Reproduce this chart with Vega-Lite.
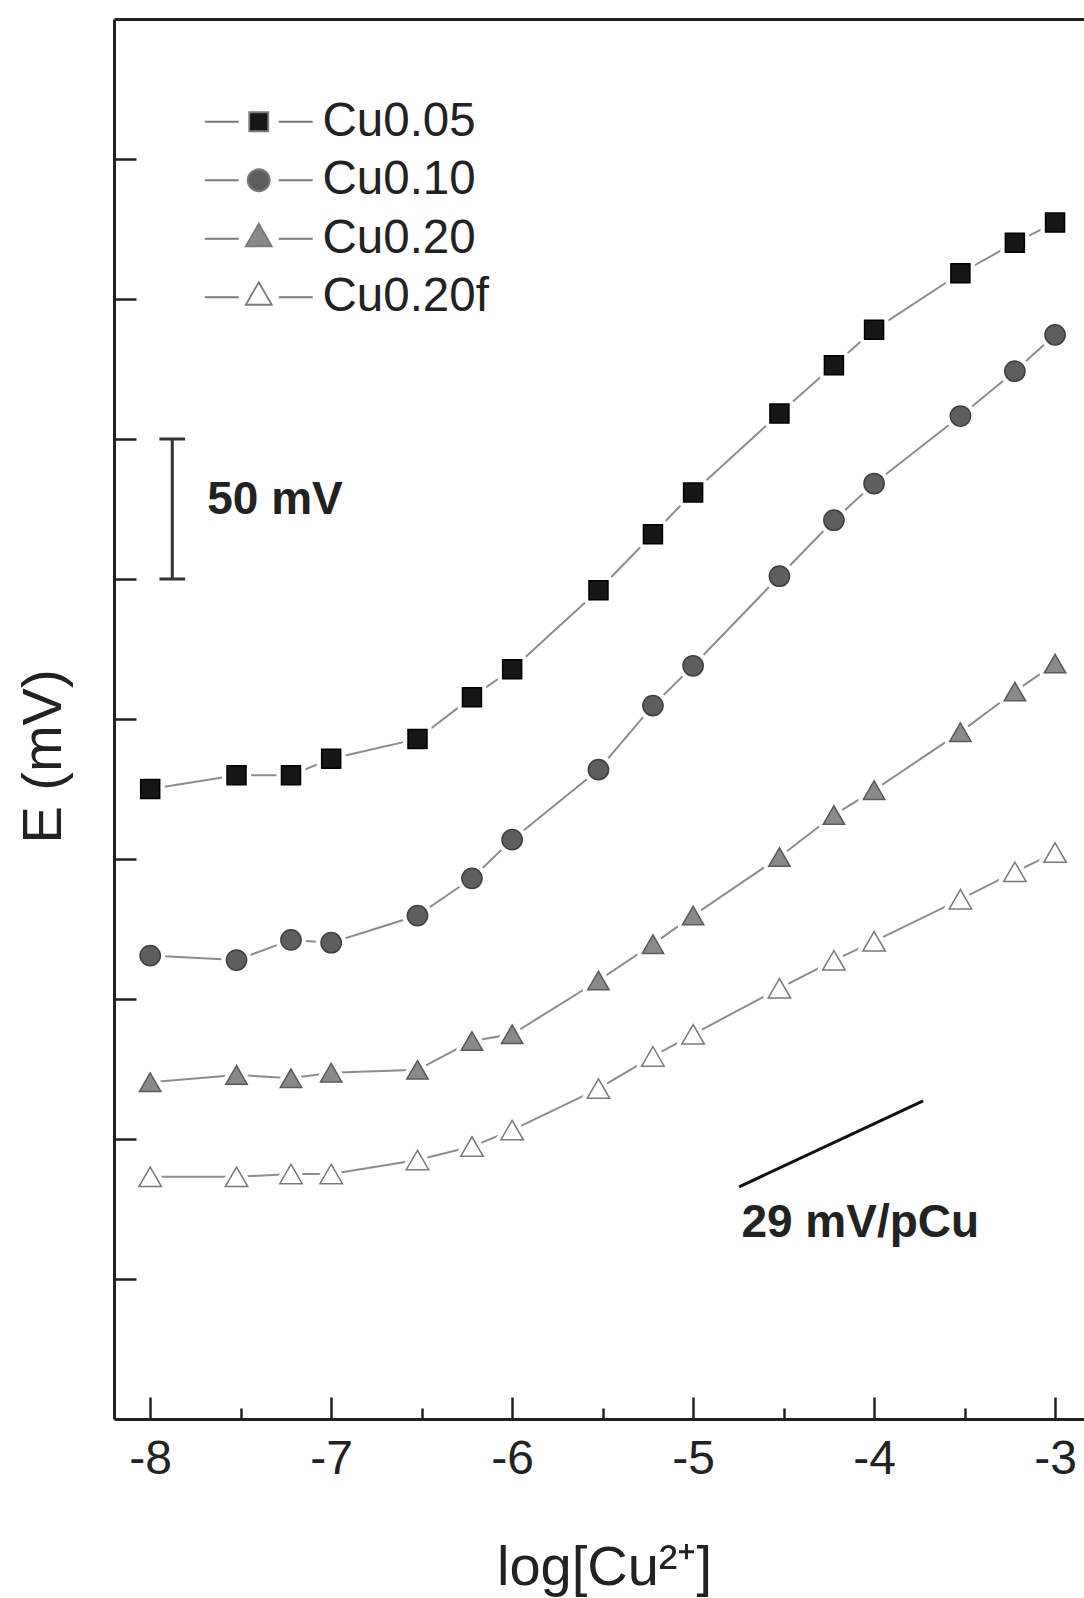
{
  "$schema": "https://vega.github.io/schema/vega-lite/v6.json",
  "width": 970,
  "height": 1400,
  "autosize": {"type": "none"},
  "padding": {"left": 114, "top": 19, "right": 0, "bottom": 179},
  "background": "white",
  "config": {"view": {"stroke": null}, "font": "Liberation Sans"},
  "data": {"values": [
    {"series": "Cu0.05", "logCu": -8, "E": 225.0},
    {"series": "Cu0.05", "logCu": -7.523, "E": 229.9},
    {"series": "Cu0.05", "logCu": -7.222, "E": 229.9},
    {"series": "Cu0.05", "logCu": -7, "E": 235.8},
    {"series": "Cu0.05", "logCu": -6.523, "E": 242.9},
    {"series": "Cu0.05", "logCu": -6.222, "E": 257.8},
    {"series": "Cu0.05", "logCu": -6, "E": 267.8},
    {"series": "Cu0.05", "logCu": -5.523, "E": 296.0},
    {"series": "Cu0.05", "logCu": -5.222, "E": 316.0},
    {"series": "Cu0.05", "logCu": -5, "E": 330.9},
    {"series": "Cu0.05", "logCu": -4.523, "E": 359.1},
    {"series": "Cu0.05", "logCu": -4.222, "E": 376.3},
    {"series": "Cu0.05", "logCu": -4, "E": 389.0},
    {"series": "Cu0.05", "logCu": -3.523, "E": 409.2},
    {"series": "Cu0.05", "logCu": -3.222, "E": 420.1},
    {"series": "Cu0.05", "logCu": -3, "E": 427.3},
    {"series": "Cu0.10", "logCu": -8, "E": 165.5},
    {"series": "Cu0.10", "logCu": -7.523, "E": 163.9},
    {"series": "Cu0.10", "logCu": -7.222, "E": 171.1},
    {"series": "Cu0.10", "logCu": -7, "E": 170.1},
    {"series": "Cu0.10", "logCu": -6.523, "E": 179.8},
    {"series": "Cu0.10", "logCu": -6.222, "E": 193.1},
    {"series": "Cu0.10", "logCu": -6, "E": 206.9},
    {"series": "Cu0.10", "logCu": -5.523, "E": 231.9},
    {"series": "Cu0.10", "logCu": -5.222, "E": 254.8},
    {"series": "Cu0.10", "logCu": -5, "E": 269.0},
    {"series": "Cu0.10", "logCu": -4.523, "E": 301.0},
    {"series": "Cu0.10", "logCu": -4.222, "E": 321.0},
    {"series": "Cu0.10", "logCu": -4, "E": 334.1},
    {"series": "Cu0.10", "logCu": -3.523, "E": 358.2},
    {"series": "Cu0.10", "logCu": -3.222, "E": 374.2},
    {"series": "Cu0.10", "logCu": -3, "E": 387.2},
    {"series": "Cu0.20", "logCu": -8, "E": 120.3},
    {"series": "Cu0.20", "logCu": -7.523, "E": 122.9},
    {"series": "Cu0.20", "logCu": -7.222, "E": 121.7},
    {"series": "Cu0.20", "logCu": -7, "E": 123.7},
    {"series": "Cu0.20", "logCu": -6.523, "E": 124.7},
    {"series": "Cu0.20", "logCu": -6.222, "E": 135.0},
    {"series": "Cu0.20", "logCu": -6, "E": 137.4},
    {"series": "Cu0.20", "logCu": -5.523, "E": 156.6},
    {"series": "Cu0.20", "logCu": -5.222, "E": 169.6},
    {"series": "Cu0.20", "logCu": -5, "E": 179.8},
    {"series": "Cu0.20", "logCu": -4.523, "E": 200.7},
    {"series": "Cu0.20", "logCu": -4.222, "E": 215.7},
    {"series": "Cu0.20", "logCu": -4, "E": 224.6},
    {"series": "Cu0.20", "logCu": -3.523, "E": 245.3},
    {"series": "Cu0.20", "logCu": -3.222, "E": 259.8},
    {"series": "Cu0.20", "logCu": -3, "E": 269.8},
    {"series": "Cu0.20f", "logCu": -8, "E": 86.5},
    {"series": "Cu0.20f", "logCu": -7.523, "E": 86.5},
    {"series": "Cu0.20f", "logCu": -7.222, "E": 87.5},
    {"series": "Cu0.20f", "logCu": -7, "E": 87.5},
    {"series": "Cu0.20f", "logCu": -6.523, "E": 92.5},
    {"series": "Cu0.20f", "logCu": -6.222, "E": 97.3},
    {"series": "Cu0.20f", "logCu": -6, "E": 103.2},
    {"series": "Cu0.20f", "logCu": -5.523, "E": 118.0},
    {"series": "Cu0.20f", "logCu": -5.222, "E": 129.5},
    {"series": "Cu0.20f", "logCu": -5, "E": 137.4},
    {"series": "Cu0.20f", "logCu": -4.523, "E": 153.8},
    {"series": "Cu0.20f", "logCu": -4.222, "E": 163.8},
    {"series": "Cu0.20f", "logCu": -4, "E": 170.6},
    {"series": "Cu0.20f", "logCu": -3.523, "E": 185.6},
    {"series": "Cu0.20f", "logCu": -3.222, "E": 195.4},
    {"series": "Cu0.20f", "logCu": -3, "E": 202.3}
  ]},
  "resolve": {
    "axis": {"x": "independent", "y": "independent"},
    "scale": {"shape": "independent", "fill": "independent", "stroke": "independent"}
  },
  "layer": [
    {
      "mark": {"type": "line", "stroke": "#8c8c8c", "strokeWidth": 2},
      "encoding": {
        "x": {"field": "logCu", "type": "quantitative",
          "scale": {"domain": [-8.2, -2.84], "nice": false, "zero": false},
          "axis": {"orient": "bottom", "values": [-8, -7, -6, -5, -4, -3], "tickSize": -22, "tickWidth": 2.5, "tickColor": "#222",
            "domain": true, "domainWidth": 3, "domainColor": "#222", "grid": false,
            "labelFontSize": 48, "labelColor": "#222", "labelPadding": 38, "labelFont": "Liberation Sans", "labelFlush": false,
            "labelExpr": "'' + datum.value",
            "title": "log[Cu²⁺]", "titleFontSize": 56, "titleFontWeight": "normal", "titleColor": "#222", "titleFont": "Liberation Sans",
            "titleX": 490, "titleY": 165, "titleBaseline": "alphabetic", "titleAlign": "center"}},
        "y": {"field": "E", "type": "quantitative",
          "scale": {"domain": [0, 500], "nice": false, "zero": false},
          "axis": {"orient": "left", "values": [50, 100, 150, 200, 250, 300, 350, 400, 450], "tickSize": -22, "tickWidth": 2.5, "tickColor": "#222",
            "labels": false, "domain": true, "domainWidth": 3, "domainColor": "#222", "grid": false,
            "title": "E (mV)", "titleFontSize": 56, "titleFontWeight": "normal", "titleColor": "#222", "titleFont": "Liberation Sans",
            "titleX": -54, "titleY": 737, "titleAngle": -90, "titleBaseline": "alphabetic", "titleAlign": "center"}},
        "detail": {"field": "series"},
        "order": {"field": "logCu"}
      }
    },
    {
      "mark": {"type": "point", "filled": true, "fill": "white", "stroke": "white", "strokeWidth": 10, "strokeJoin": "round", "opacity": 1},
      "encoding": {
        "x": {"field": "logCu", "type": "quantitative",
          "axis": {"orient": "bottom", "values": [-7.5, -6.5, -5.5, -4.5, -3.5], "tickSize": -11, "tickWidth": 2.5, "tickColor": "#222",
            "labels": false, "domain": false, "grid": false, "title": null}},
        "y": {"field": "E", "type": "quantitative", "axis": null},
        "shape": {"field": "series", "type": "nominal", "legend": null,
          "scale": {"domain": ["Cu0.05", "Cu0.10", "Cu0.20", "Cu0.20f"], "range": ["square", "circle", "triangle-up", "triangle-up"]}},
        "size": {"field": "series", "type": "nominal", "legend": null,
          "scale": {"domain": ["Cu0.05", "Cu0.10", "Cu0.20", "Cu0.20f"], "range": [361, 506, 676, 676]}}
      }
    },
    {
      "mark": {"type": "point", "filled": true, "strokeWidth": 1.5, "opacity": 1},
      "encoding": {
        "x": {"field": "logCu", "type": "quantitative", "axis": null},
        "y": {"field": "E", "type": "quantitative", "axis": null},
        "shape": {"field": "series", "type": "nominal", "legend": null,
          "scale": {"domain": ["Cu0.05", "Cu0.10", "Cu0.20", "Cu0.20f"], "range": ["square", "circle", "triangle-up", "triangle-up"]}},
        "size": {"field": "series", "type": "nominal", "legend": null,
          "scale": {"domain": ["Cu0.05", "Cu0.10", "Cu0.20", "Cu0.20f"], "range": [361, 506, 676, 676]}},
        "fill": {"field": "series", "type": "nominal", "legend": null,
          "scale": {"domain": ["Cu0.05", "Cu0.10", "Cu0.20", "Cu0.20f"], "range": ["#161616", "#5e5e5e", "#8a8a8a", "#ffffff"]}},
        "stroke": {"field": "series", "type": "nominal", "legend": null,
          "scale": {"domain": ["Cu0.05", "Cu0.10", "Cu0.20", "Cu0.20f"], "range": ["#000000", "#404040", "#5a5a5a", "#7a7a7a"]}}
      }
    },
    {
      "transform": [{"filter": "false"}],
      "mark": {"type": "point", "filled": true, "strokeWidth": 1.8, "opacity": 1},
      "encoding": {
        "x": {"field": "logCu", "type": "quantitative",
          "axis": {"orient": "top", "ticks": false, "labels": false, "domain": true, "domainWidth": 3, "domainColor": "#222", "grid": false, "title": null}},
        "y": {"field": "E", "type": "quantitative", "axis": null},
        "shape": {"field": "series", "type": "nominal",
          "scale": {"domain": ["Cu0.05", "Cu0.10", "Cu0.20", "Cu0.20f"], "range": [
            "M-54,0H-20M20,0H54M-9.5,-9.5H9.5V9.5H-9.5Z",
            "M-54,0H-20M20,0H54M-11,0A11,11 0 1,1 11,0A11,11 0 1,1 -11,0Z",
            "M-54,0H-20M20,0H54M0,-15L13,7.5L-13,7.5Z",
            "M-54,0H-20M20,0H54M0,-15L13,7.5L-13,7.5Z"]},
          "legend": {"orient": "none", "legendX": 87, "legendY": 79, "title": null, "padding": 0,
            "symbolSize": 4, "symbolStrokeWidth": 1.8, "symbolOffset": 34,
            "labelFontSize": 47.5, "labelFont": "Liberation Sans", "labelColor": "#222", "labelOffset": 40, "labelLimit": 400,
            "rowPadding": 9.5}},
        "fill": {"field": "series", "type": "nominal",
          "scale": {"domain": ["Cu0.05", "Cu0.10", "Cu0.20", "Cu0.20f"], "range": ["#161616", "#5e5e5e", "#8a8a8a", "#ffffff"]},
          "legend": {"orient": "none", "legendX": 87, "legendY": 79, "title": null, "padding": 0,
            "symbolSize": 4, "symbolStrokeWidth": 1.8, "symbolOffset": 34,
            "labelFontSize": 47.5, "labelFont": "Liberation Sans", "labelColor": "#222", "labelOffset": 40, "labelLimit": 400,
            "rowPadding": 9.5}},
        "stroke": {"field": "series", "type": "nominal",
          "scale": {"domain": ["Cu0.05", "Cu0.10", "Cu0.20", "Cu0.20f"], "range": ["#7a7a7a", "#7a7a7a", "#7a7a7a", "#7a7a7a"]},
          "legend": {"orient": "none", "legendX": 87, "legendY": 79, "title": null, "padding": 0,
            "symbolSize": 4, "symbolStrokeWidth": 1.8, "symbolOffset": 34,
            "labelFontSize": 47.5, "labelFont": "Liberation Sans", "labelColor": "#222", "labelOffset": 40, "labelLimit": 400,
            "rowPadding": 9.5}}
      }
    },
    {
      "data": {"values": [{}]},
      "mark": {"type": "rule", "stroke": "#333", "strokeWidth": 3},
      "encoding": {
        "x": {"datum": -7.878, "type": "quantitative", "axis": null},
        "y": {"datum": 300, "type": "quantitative", "axis": null},
        "y2": {"datum": 350}
      }
    },
    {
      "data": {"values": [{}]},
      "mark": {"type": "rule", "stroke": "#333", "strokeWidth": 3},
      "encoding": {
        "x": {"datum": -7.949, "type": "quantitative", "axis": null},
        "x2": {"datum": -7.807},
        "y": {"datum": 300, "type": "quantitative", "axis": null}
      }
    },
    {
      "data": {"values": [{}]},
      "mark": {"type": "rule", "stroke": "#333", "strokeWidth": 3},
      "encoding": {
        "x": {"datum": -7.949, "type": "quantitative", "axis": null},
        "x2": {"datum": -7.807},
        "y": {"datum": 350, "type": "quantitative", "axis": null}
      }
    },
    {
      "data": {"values": [{}]},
      "mark": {"type": "text", "text": "50 mV", "font": "Liberation Sans", "fontSize": 46, "fontWeight": "bold", "fill": "#222", "align": "left", "baseline": "alphabetic"},
      "encoding": {
        "x": {"datum": -7.685, "type": "quantitative", "axis": null},
        "y": {"datum": 323.3, "type": "quantitative", "axis": null}
      }
    },
    {
      "data": {"values": [{}]},
      "mark": {"type": "rule", "stroke": "#111", "strokeWidth": 3},
      "encoding": {
        "x": {"datum": -4.746, "type": "quantitative", "axis": null},
        "x2": {"datum": -3.729},
        "y": {"datum": 82.9, "type": "quantitative", "axis": null},
        "y2": {"datum": 113.6}
      }
    },
    {
      "data": {"values": [{}]},
      "mark": {"type": "text", "text": "29 mV/pCu", "font": "Liberation Sans", "fontSize": 46, "fontWeight": "bold", "fill": "#222", "align": "left", "baseline": "alphabetic"},
      "encoding": {
        "x": {"datum": -4.733, "type": "quantitative", "axis": null},
        "y": {"datum": 65.0, "type": "quantitative", "axis": null}
      }
    }
  ]
}
